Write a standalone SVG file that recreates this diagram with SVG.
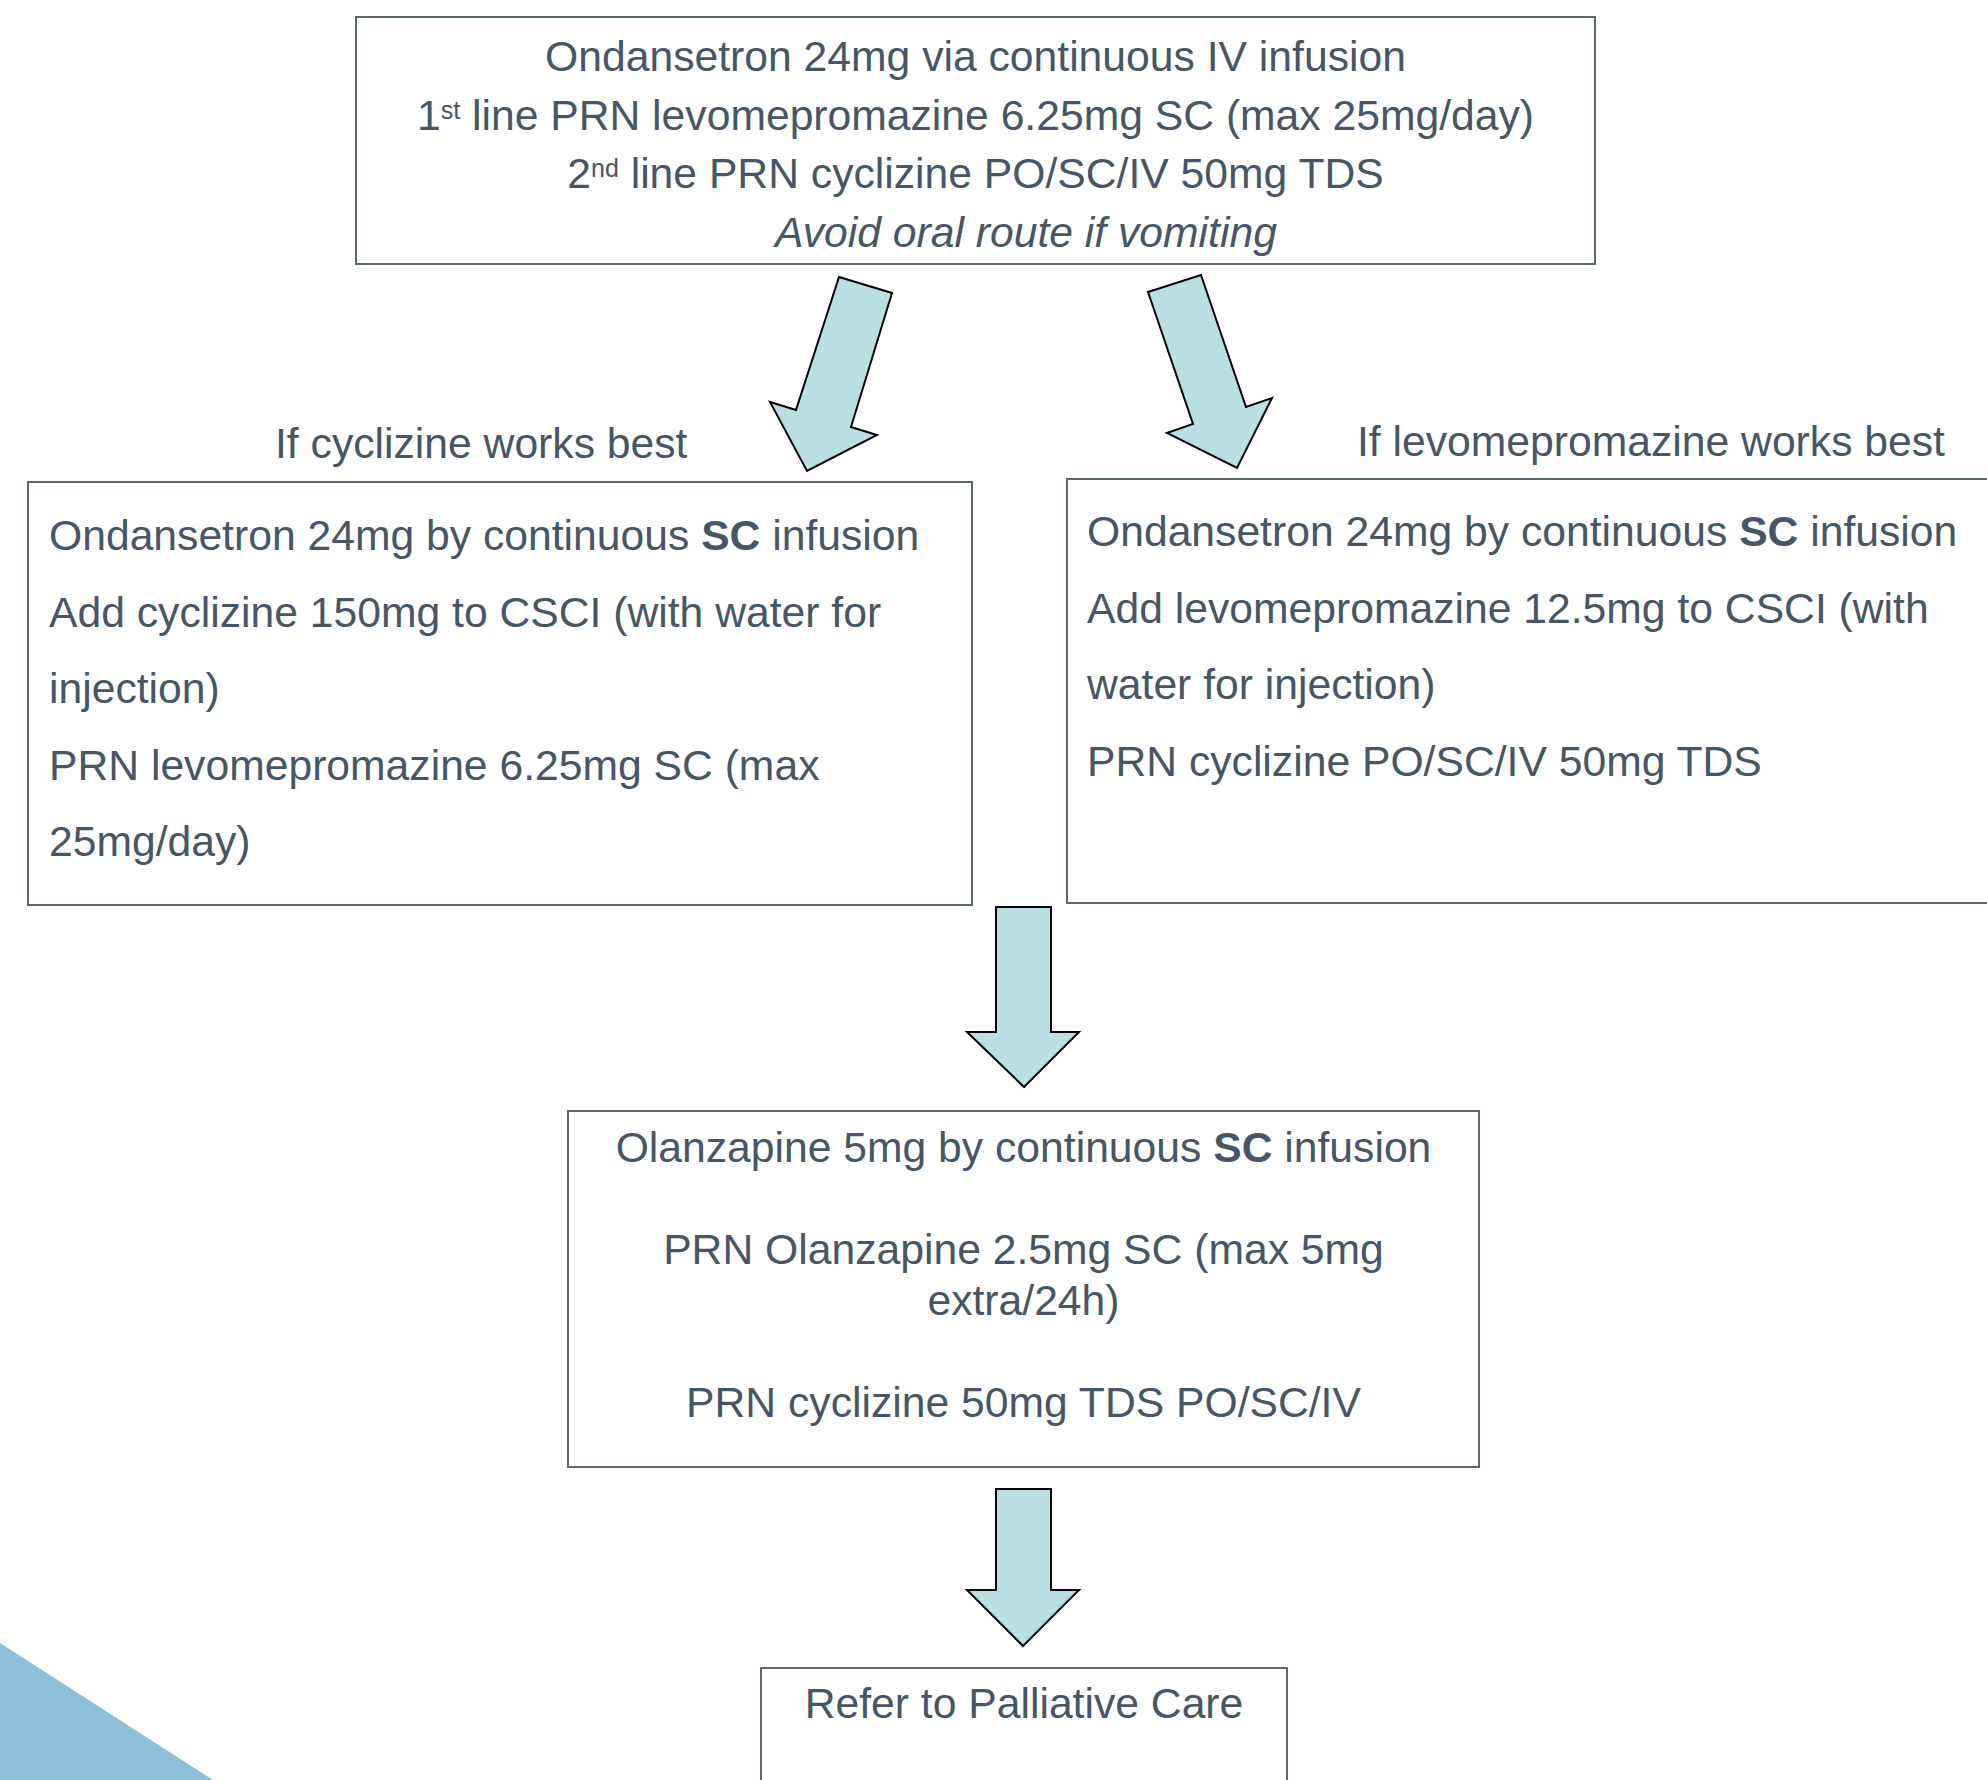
<svg xmlns="http://www.w3.org/2000/svg" width="1987" height="1780" viewBox="0 0 1987 1780">
<style>
.box{fill:#fff;stroke:#5a6878;stroke-width:2}
.t{font-family:"Liberation Sans",Arial,sans-serif;font-size:42.67px;fill:#465666}
.c{text-anchor:middle}
.sup{font-size:25px}
.b{font-weight:bold}
.arr{fill:#badfe3;stroke:#000;stroke-width:2;stroke-linejoin:miter}
</style>
<rect width="1987" height="1780" fill="#fff"/>
<polygon points="0,1643 213,1780 0,1780" fill="#8dbfd9"/>
<g id="top">
<rect class="box" x="356" y="17" width="1239" height="247"/>
<text class="t c" x="975.5" y="71">Ondansetron 24mg via continuous IV infusion</text>
<text class="t c" x="975.5" y="129.5">1<tspan class="sup" dy="-11">st</tspan><tspan dy="11"> line PRN levomepromazine 6.25mg SC (max 25mg/day)</tspan></text>
<text class="t c" x="975.5" y="188">2<tspan class="sup" dy="-11">nd</tspan><tspan dy="11"> line PRN cyclizine PO/SC/IV 50mg TDS</tspan></text>
<text class="t" x="775" y="246.5" font-style="italic">Avoid oral route if vomiting</text>
</g>
<g id="label-cyclizine">
<text class="t" x="275" y="458">If cyclizine works best</text>
</g>
<g id="label-levo">
<text class="t" x="1357" y="456">If levomepromazine works best</text>
</g>
<g id="left">
<rect class="box" x="28" y="482" width="944" height="423"/>
<text class="t" x="49" y="550">Ondansetron 24mg by continuous <tspan class="b">SC</tspan> infusion</text>
<text class="t" x="49" y="626.5">Add cyclizine 150mg to CSCI (with water for</text>
<text class="t" x="49" y="703">injection)</text>
<text class="t" x="49" y="779.5">PRN levomepromazine 6.25mg SC (max</text>
<text class="t" x="49" y="856">25mg/day)</text>
</g>
<g id="right">
<rect class="box" x="1067" y="479" width="1000" height="424"/>
<text class="t" x="1087" y="546">Ondansetron 24mg by continuous <tspan class="b">SC</tspan> infusion</text>
<text class="t" x="1087" y="622.5">Add levomepromazine 12.5mg to CSCI (with</text>
<text class="t" x="1087" y="699">water for injection)</text>
<text class="t" x="1087" y="775.5">PRN cyclizine PO/SC/IV 50mg TDS</text>
</g>
<g id="olanzapine">
<rect class="box" x="568" y="1111" width="911" height="356"/>
<text class="t c" x="1023.5" y="1162">Olanzapine 5mg by continuous <tspan class="b">SC</tspan> infusion</text>
<text class="t c" x="1023.5" y="1264">PRN Olanzapine 2.5mg SC (max 5mg</text>
<text class="t c" x="1023.5" y="1315">extra/24h)</text>
<text class="t c" x="1023.5" y="1417">PRN cyclizine 50mg TDS PO/SC/IV</text>
</g>
<g id="palliative">
<rect class="box" x="761" y="1668" width="526" height="130"/>
<text class="t c" x="1024" y="1718">Refer to Palliative Care</text>
</g>
<g id="connectors">
<polygon class="arr" points="839,277 892,293 851,427 877,435 807,471 770,402 796,410"/>
<polygon class="arr" points="1148,292 1201,275 1246,407 1272,398 1237,468 1167,433 1193,424"/>
<polygon class="arr" points="996,907 1051,907 1051,1032 1079,1032 1024,1087 967,1032 996,1032"/>
<polygon class="arr" points="996,1489 1051,1489 1051,1590 1079,1590 1023,1646 967,1590 996,1590"/>
</g>
</svg>
